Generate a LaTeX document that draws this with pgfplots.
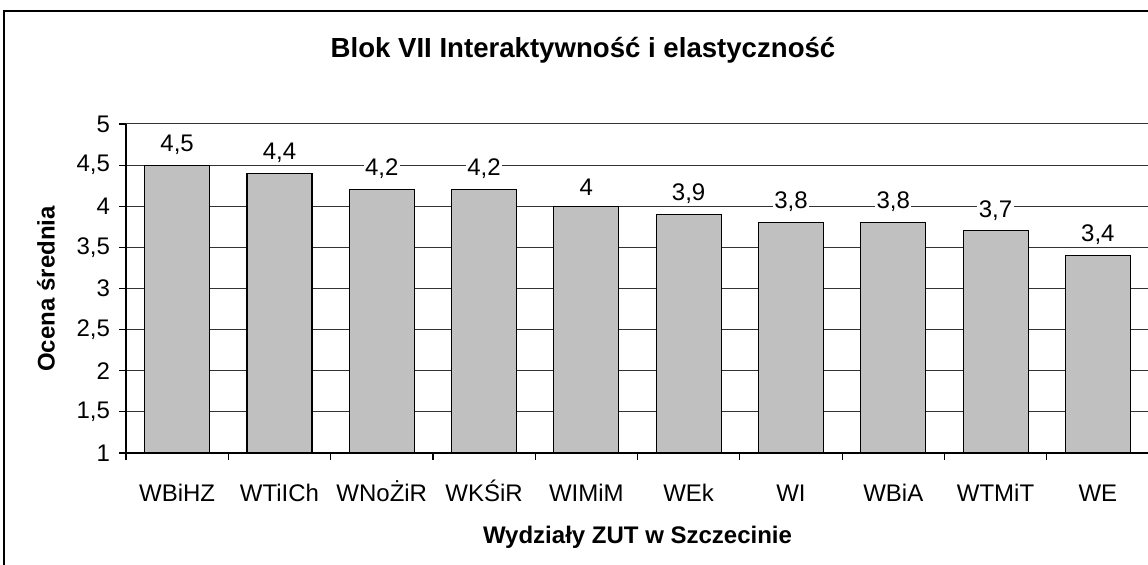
\documentclass[border=0pt]{standalone}
\usepackage{pgfplots}
\pgfplotsset{compat=1.18}
\usepackage{fontspec}
\setmainfont{Liberation Sans}
\definecolor{barg}{HTML}{C0C0C0}
\begin{document}
\begin{tikzpicture}
\begin{axis}[
  at={(63pt,56pt)}, anchor=south west,
  scale only axis, width=511.5pt, height=164.5pt,
  ymin=1, ymax=5, ytick={1,1.5,...,5},
  xmin=-0.5, xmax=9.5,
  xtick={0,...,9},
  xticklabels={WBiHZ,WTiICh,WNoŻiR,WKŚiR,WIMiM,WEk,WI,WBiA,WTMiT,WE},
  minor xtick={-0.5,0.5,...,9.5},
  axis lines*=left,
  axis line style={black, line width=0.6pt},
  tick align=outside,
  major tick length=3.5pt, minor tick length=3.5pt,
  major x tick style={draw=none},
  minor x tick style={black, line width=0.6pt},
  y tick style={black, line width=0.6pt},
  ymajorgrids, major grid style={black!80, line width=0.5pt},
  tick label style={font=\fontsize{12}{14}\selectfont},
  xticklabel style={text height=8.8pt, text depth=2.6pt, yshift=-8.5pt},
  yticklabel style={xshift=-1pt},
  /pgf/number format/.cd, use comma, assume math mode=true,
  /pgfplots/.cd,
  ybar, bar width=32.5pt,
  nodes near coords,
  nodes near coords style={fill=white, inner xsep=0.7pt, inner ysep=0.5pt, yshift=4.6pt, font=\fontsize{12}{14}\selectfont},
  clip=false,
]
\addplot[fill=barg, draw=black, line width=0.55pt] coordinates {
(0,4.5) (1,4.4) (2,4.2) (3,4.2) (4,4.0) (5,3.9) (6,3.8) (7,3.8) (8,3.7) (9,3.4)};
\end{axis}
\node[font=\bfseries\fontsize{13.8}{16}\selectfont] at (291.5pt,257.5pt) {Blok VII Interaktywność i elastyczność};
\node[font=\bfseries\fontsize{12}{14}\selectfont] at (318.75pt,14pt) {Wydziały ZUT w Szczecinie};
\node[font=\bfseries\fontsize{12}{14}\selectfont, rotate=90] at (23pt,138pt) {Ocena średnia};
\draw[line width=1pt] (2pt,-10pt) rectangle (590pt,277pt);
\pgfresetboundingbox
\useasboundingbox (0,0) rectangle (574pt,282.5pt);
\end{tikzpicture}
\end{document}
